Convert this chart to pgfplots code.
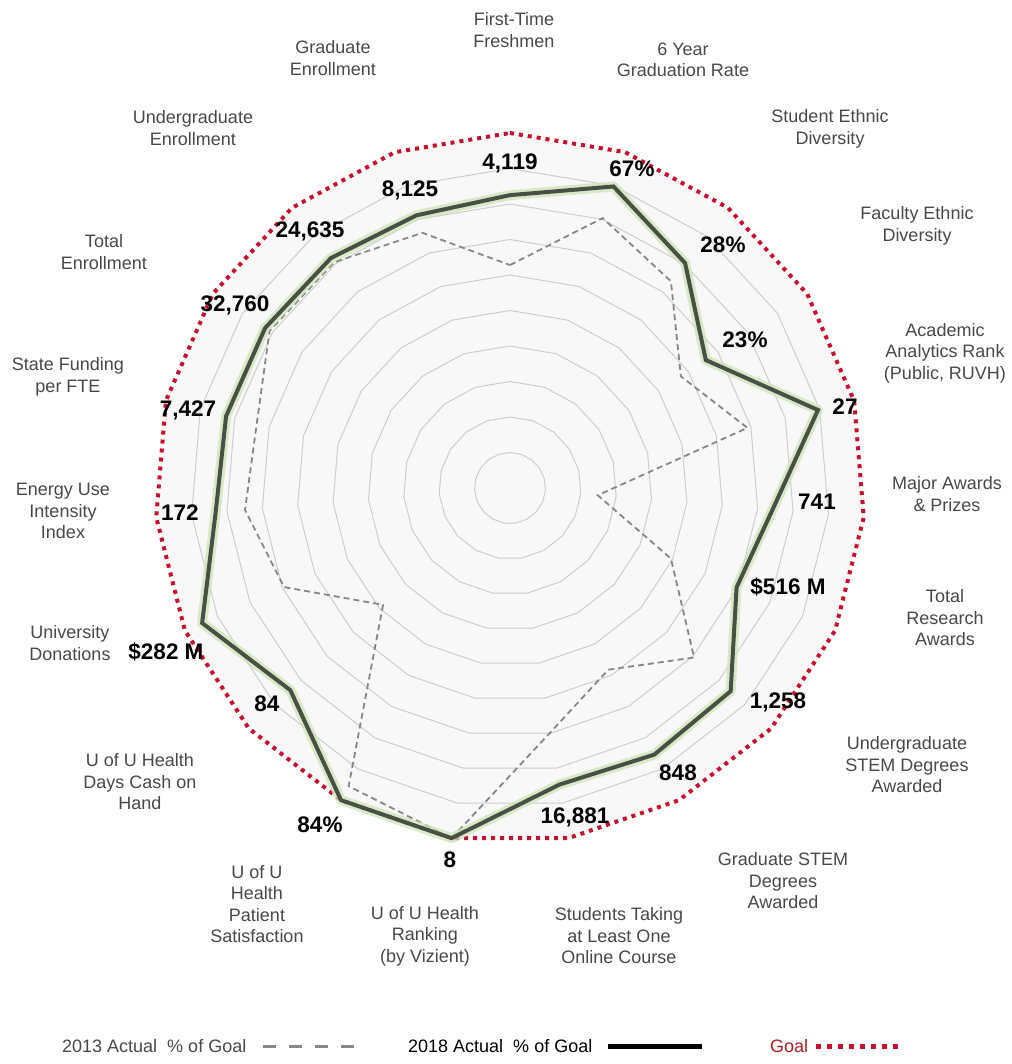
\documentclass[border=0pt]{standalone}
\usepackage{pgfplots}
\pgfplotsset{compat=1.18}
\usepackage{pgfplotstable}
\usepgfplotslibrary{polar}
\usepackage{fontspec}
\setmainfont{Liberation Sans}

\definecolor{goalred}{RGB}{200,16,46}
\definecolor{goaltext}{RGB}{170,30,30}
\definecolor{line18}{RGB}{72,80,70}
\definecolor{glow}{RGB}{205,228,180}
\definecolor{line13}{RGB}{135,135,135}
\definecolor{ring}{RGB}{205,205,205}
\definecolor{panel}{RGB}{248,248,248}
\definecolor{catgray}{RGB}{72,72,72}

% angle (deg, clockwise from top), 2018 and 2013 as % of goal
\pgfplotstableread{
ang       y18    y13    goal
90        82.5   62.8   100
71.053    89.8   80.4   100
52.105    80.3   73.8   100
33.158    65.9   57.5   100
14.211    89.5   69.0   100
-4.737    74.2   24.8   100
-23.684   69.7   49.5   100
-42.632   84.5   70.5   100
-61.579   85.4   58.2   100
-80.526   84.7   69.7   100
-99.474   100    100    100
-118.421  100    95.5   100
-137.368  84.1   48.6   100
-156.316  94.7   69.5   100
-175.263  83.2   74.9   100
-194.211  82.5   73.6   100
-213.158  82.4   80.9   100
-232.105  82.1   80.6   100
-251.053  81.2   76.0   100
-270      82.5   62.8   100
}\radar

\tikzset{
  cat/.style={font=\fontsize{18}{21.5}\selectfont, text=catgray, align=center, inner sep=0pt},
  val/.style={font=\fontsize{22.5}{24}\selectfont\bfseries, text=black, inner sep=0pt},
  leg/.style={anchor=west, inner sep=0pt, font=\fontsize{18}{20}\selectfont},
}

\begin{document}
\begin{tikzpicture}
\useasboundingbox (-510pt,-576pt) rectangle (501pt,488pt);
\begin{polaraxis}[
    at={(0pt,0pt)}, anchor=center,
    scale only axis, width=710pt, height=710pt,
    xmin=0, xmax=360, ymin=0, ymax=100,
    hide axis, clip=false,
]
% panel
\addplot[draw=none, fill=panel] table[x=ang, y=goal] {\radar};
% rings
\pgfplotsinvokeforeach{10,20,30,40,50,60,70,80,90}{
  \addplot[ring, line width=1pt] table[x=ang, y expr=#1] {\radar};
}
% goal
\addplot[goalred, line width=4pt, dash pattern=on 4pt off 5pt] table[x=ang, y=goal] {\radar};
% 2013
\addplot[line13, line width=1.8pt, dash pattern=on 6pt off 4pt] table[x=ang, y=y13] {\radar};
% 2018
\addplot[glow, line width=10pt, opacity=0.7, line join=round] table[x=ang, y=y18] {\radar};
\addplot[line18, line width=4pt, line join=miter] table[x=ang, y=y18] {\radar};
\end{polaraxis}

\begin{scope}[x=1pt, y=-1pt, shift={(-510pt,488pt)}]
% category labels
\node[cat] at (514,30)  {First-Time\\Freshmen};
\node[cat] at (683,60)  {6 Year\\Graduation Rate};
\node[cat] at (830,129) {Student Ethnic\\Diversity};
\node[cat] at (917,226) {Faculty Ethnic\\Diversity};
\node[cat] at (945,353) {Academic\\Analytics Rank\\(Public, RUVH)};
\node[cat] at (947,494) {Major Awards\\\& Prizes};
\node[cat] at (945,618) {Total\\Research\\Awards};
\node[cat] at (907,765) {Undergraduate\\STEM Degrees\\Awarded};
\node[cat] at (783,881) {Graduate STEM\\Degrees\\Awarded};
\node[cat] at (619,936) {Students Taking\\at Least One\\Online Course};
\node[cat] at (425,936) {U of U Health\\Ranking\\(by Vizient)};
\node[cat] at (257,904) {U of U\\Health\\Patient\\Satisfaction};
\node[cat] at (140,782) {U of U Health\\Days Cash on\\Hand};
\node[cat] at (70,643)  {University\\Donations};
\node[cat] at (63,511)  {Energy Use\\Intensity\\Index};
\node[cat] at (68,377)  {State Funding\\per FTE};
\node[cat] at (104,252) {Total\\Enrollment};
\node[cat] at (193,128) {Undergraduate\\Enrollment};
\node[cat] at (333,58)  {Graduate\\Enrollment};
% value labels
\node[val] at (510,163) {4,119};
\node[val] at (632,169) {67\%};
\node[val] at (723,245) {28\%};
\node[val] at (745,340) {23\%};
\node[val] at (845,407) {27};
\node[val] at (817,502) {741};
\node[val] at (788,587) {\$516 M};
\node[val] at (778,702) {1,258};
\node[val] at (678,773) {848};
\node[val] at (575,817) {16,881};
\node[val] at (450,860) {8};
\node[val] at (320,825) {84\%};
\node[val] at (267,704) {84};
\node[val] at (166,652) {\$282 M};
\node[val] at (180,513) {172};
\node[val] at (188,410) {7,427};
\node[val] at (235,305) {32,760};
\node[val] at (310,231) {24,635};
\node[val] at (410,190) {8,125};
% legend
\node[leg, text=catgray] at (62,1046) {2013 Actual\ \ \% of Goal};
\draw[line13, line width=3pt, dash pattern=on 13pt off 13pt] (263,1046) -- (354,1046);
\node[leg, text=black] at (408,1046) {2018 Actual\ \ \% of Goal};
\draw[black, line width=5pt] (608,1046) -- (702,1046);
\node[leg, text=goaltext] at (770,1046) {Goal};
\draw[goalred, line width=5pt, dash pattern=on 5pt off 6pt] (816,1046) -- (900,1046);
\end{scope}
\end{tikzpicture}
\end{document}
